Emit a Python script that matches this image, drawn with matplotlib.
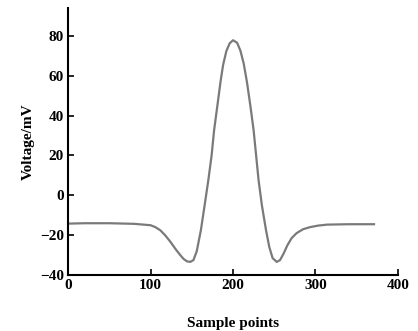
import matplotlib
matplotlib.use('Agg')
import matplotlib.pyplot as plt

# waveform
sample_idx = [0, 20, 50, 80, 100, 106, 112, 118, 124, 130, 136, 140, 144, 148,
              152, 156, 161, 165, 170, 174, 177, 181, 185, 188, 192, 196, 200,
              205, 209, 213, 217, 221, 225, 228, 231, 235, 240, 244, 248, 253,
              257, 261, 266, 271, 277, 285, 293, 303, 314, 340, 371]
voltage_mv = [-14.2, -14.0, -14.0, -14.3, -15.0, -16.0, -17.6, -20.2, -23.3, -26.8,
              -30.0, -31.9, -33.1, -33.4, -32.5, -28.0, -17.5, -6.5, 7.5, 20.0,
              32.5, 45.0, 57.5, 65.5, 72.5, 76.3, 77.8, 76.5, 72.5, 66.0, 56.5,
              45.0, 32.5, 20.0, 7.5, -5.0, -17.5, -26.0, -31.5, -33.4, -32.5,
              -29.5, -25.0, -21.5, -19.0, -17.0, -16.0, -15.2, -14.7, -14.5, -14.5]
x_ticks = [0, 100, 200, 300, 400]
y_ticks = [-40, -20, 0, 20, 40, 60, 80]

plt.rcParams['font.family'] = ['Liberation Serif', 'DejaVu Serif']
plt.rcParams['font.weight'] = 'bold'

fig = plt.figure(figsize=(4.18, 3.31), dpi=100)
ax = fig.add_axes([0.163, 0.169, 0.789, 0.807])

ax.plot(sample_idx, voltage_mv, color='#7a7a7a', linewidth=1.6,
        solid_joinstyle='round')

ax.set_xlim(0, 400)
ax.set_ylim(-40, 94)
ax.set_xticks(x_ticks)
ax.set_yticks(y_ticks)
ax.tick_params(direction='in', length=4, width=1.2, labelsize=11, pad=3)
for lab in ax.get_xticklabels() + ax.get_yticklabels():
    lab.set_fontweight('bold')

ax.spines['top'].set_visible(False)
ax.spines['right'].set_visible(False)
for s in ['left', 'bottom']:
    ax.spines[s].set_linewidth(1.5)

ax.set_xlabel('Sample points', fontsize=11, fontweight='bold', labelpad=18)
ax.set_ylabel('Voltage/mV', fontsize=11, fontweight='bold', labelpad=4)

plt.savefig('out.png', dpi=100)
